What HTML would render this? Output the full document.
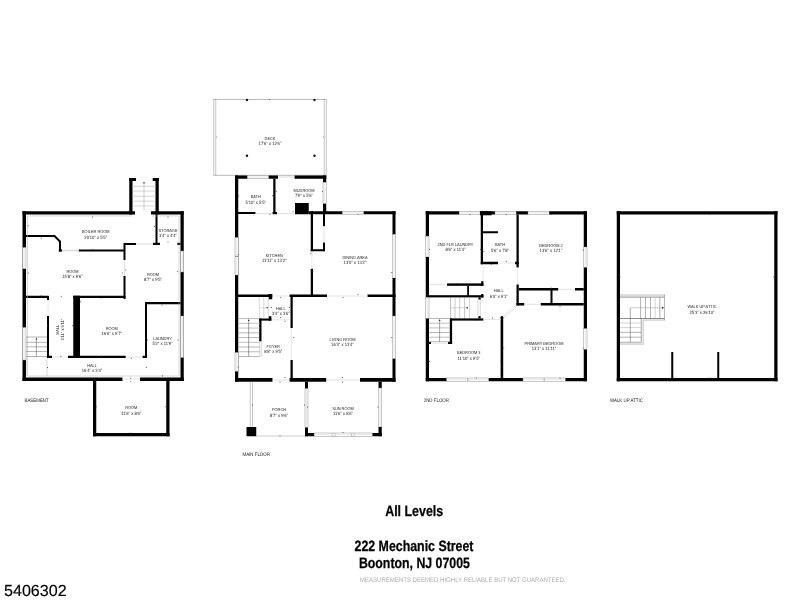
<!DOCTYPE html>
<html><head><meta charset="utf-8"><title>Floor plan</title>
<style>
html,body{margin:0;padding:0;background:#fff;}
body{width:800px;height:600px;overflow:hidden;position:relative;font-family:"Liberation Sans",sans-serif;}
svg{position:absolute;left:0;top:0;display:block;opacity:0.999;will-change:transform;}
svg text{font-family:"Liberation Sans",sans-serif;text-rendering:geometricPrecision;}
.t{position:absolute;white-space:nowrap;font-family:"Liberation Sans",sans-serif;color:#000;line-height:1;}
</style></head><body>
<svg width="800" height="600" viewBox="0 0 800 600">
<rect width="800" height="600" fill="#fff"/>
<g id="basement">
<rect x="22.5" y="211.25" width="3.5" height="169.75" fill="#000"/>
<rect x="180.5" y="211.25" width="3.25" height="169.75" fill="#000"/>
<rect x="22.5" y="211.25" width="112.5" height="3.25" fill="#000"/>
<rect x="151" y="211.25" width="32.75" height="3.25" fill="#000"/>
<rect x="22.5" y="377.5" width="100" height="3.5" fill="#000"/>
<rect x="140" y="377.5" width="43.75" height="3.5" fill="#000"/>
<rect x="129.25" y="178" width="3.25" height="36.5" fill="#000"/>
<rect x="155.5" y="178" width="3.25" height="36.5" fill="#000"/>
<rect x="129.25" y="178" width="6.75" height="3" fill="#000"/>
<rect x="152.7" y="178" width="6.05" height="3" fill="#000"/>
<rect x="93" y="381" width="3.25" height="55.25" fill="#000"/>
<rect x="166.25" y="381" width="3.25" height="55.25" fill="#000"/>
<rect x="93" y="433" width="76.5" height="3.25" fill="#000"/>
<rect x="22.5" y="247.5" width="3.5" height="21.25" fill="#fafafa" stroke="#8a8a8a" stroke-width="0.45"/>
<line x1="24.25" y1="247.5" x2="24.25" y2="268.75" stroke="#dedede" stroke-width="0.5"/>
<rect x="22.5" y="327.5" width="3.5" height="32.5" fill="#fafafa" stroke="#8a8a8a" stroke-width="0.45"/>
<line x1="24.25" y1="327.5" x2="24.25" y2="360" stroke="#dedede" stroke-width="0.5"/>
<rect x="180.5" y="251" width="3.25" height="21" fill="#fafafa" stroke="#8a8a8a" stroke-width="0.45"/>
<line x1="182.125" y1="251" x2="182.125" y2="272" stroke="#dedede" stroke-width="0.5"/>
<rect x="180.5" y="316" width="3.25" height="41.5" fill="#fafafa" stroke="#8a8a8a" stroke-width="0.45"/>
<line x1="182.125" y1="316" x2="182.125" y2="357.5" stroke="#dedede" stroke-width="0.5"/>
<rect x="155.5" y="214.5" width="2" height="30.5" fill="#000"/>
<rect x="153" y="242.8" width="7" height="2.2" fill="#000"/>
<rect x="177.3" y="242.8" width="3.2" height="2.2" fill="#000"/>
<rect x="124" y="243" width="12" height="2" fill="#000"/>
<rect x="123.5" y="243" width="2" height="17" fill="#000"/>
<rect x="123.5" y="276" width="2" height="23" fill="#000"/>
<rect x="78.75" y="249.5" width="45.25" height="2" fill="#000"/>
<rect x="58.75" y="249.5" width="3.25" height="2" fill="#000"/>
<polyline points="26,236 54.5,236 60,241.5 60,251.5" fill="none" stroke="#000" stroke-width="2"/>
<rect x="26" y="295.75" width="22.75" height="2.25" fill="#000"/>
<rect x="73.25" y="295.75" width="52.25" height="2.25" fill="#000"/>
<rect x="73.25" y="295.75" width="6.75" height="61.75" fill="#000"/>
<rect x="145" y="302" width="35.5" height="2.25" fill="#000"/>
<rect x="145" y="302" width="2" height="55.5" fill="#000"/>
<rect x="47" y="296" width="2" height="4" fill="#000"/>
<rect x="47" y="316" width="2" height="41.5" fill="#000"/>
<rect x="47" y="355.75" width="5" height="2.25" fill="#000"/>
<rect x="68" y="355.75" width="57.75" height="2.25" fill="#000"/>
<rect x="142.5" y="355.75" width="4.5" height="2.25" fill="#000"/>
<line x1="27.5" y1="216" x2="132" y2="216" stroke="#b0b0b0" stroke-width="0.5"/>
<line x1="152" y1="216" x2="179" y2="216" stroke="#b0b0b0" stroke-width="0.5"/>
<line x1="27.5" y1="216" x2="27.5" y2="376" stroke="#b0b0b0" stroke-width="0.5"/>
<line x1="179" y1="216" x2="179" y2="376" stroke="#b0b0b0" stroke-width="0.5"/>
<line x1="27.5" y1="376" x2="179" y2="376" stroke="#b0b0b0" stroke-width="0.5"/>
<line x1="62" y1="250.5" x2="78.75" y2="250.5" stroke="#dadada" stroke-width="1.5"/>
<line x1="136" y1="244" x2="153" y2="244" stroke="#dadada" stroke-width="1"/>
<line x1="124.5" y1="260" x2="124.5" y2="276" stroke="#dadada" stroke-width="0.8"/>
<line x1="47.3" y1="300" x2="47.3" y2="316" stroke="#ddd" stroke-width="0.4"/>
<line x1="48.7" y1="300" x2="48.7" y2="316" stroke="#ddd" stroke-width="0.4"/>
<line x1="125.75" y1="357" x2="142.5" y2="357" stroke="#dadada" stroke-width="0.8"/>
<line x1="47" y1="358" x2="47" y2="376" stroke="#b0b0b0" stroke-width="0.5"/>
<line x1="52" y1="357" x2="68" y2="357" stroke="#ddd" stroke-width="0.8"/>
<line x1="122.5" y1="379" x2="140" y2="379" stroke="#dadada" stroke-width="0.8"/>
<line x1="132.5" y1="186.3" x2="155.5" y2="186.3" stroke="#c4c4c4" stroke-width="0.7"/>
<line x1="132.5" y1="191.1" x2="155.5" y2="191.1" stroke="#c4c4c4" stroke-width="0.7"/>
<line x1="132.5" y1="196.2" x2="155.5" y2="196.2" stroke="#c4c4c4" stroke-width="0.7"/>
<line x1="132.5" y1="201.2" x2="155.5" y2="201.2" stroke="#c4c4c4" stroke-width="0.7"/>
<line x1="132.5" y1="206" x2="155.5" y2="206" stroke="#c4c4c4" stroke-width="0.7"/>
<line x1="144" y1="183" x2="144" y2="210.7" stroke="#b0b0b0" stroke-width="0.6"/>
<circle cx="144" cy="182.7" r="0.8" fill="#333"/>
<line x1="26" y1="337" x2="47" y2="337" stroke="#777" stroke-width="0.55"/>
<line x1="26" y1="342.3" x2="47" y2="342.3" stroke="#777" stroke-width="0.55"/>
<line x1="26" y1="346.8" x2="47" y2="346.8" stroke="#777" stroke-width="0.55"/>
<line x1="26" y1="351.5" x2="47" y2="351.5" stroke="#777" stroke-width="0.55"/>
<line x1="26" y1="356.5" x2="47" y2="356.5" stroke="#777" stroke-width="0.55"/>
<line x1="26.4" y1="337" x2="26.4" y2="376" stroke="#bbb" stroke-width="0.4"/>
<line x1="36.4" y1="338.5" x2="36.4" y2="356.5" stroke="#555" stroke-width="0.5"/>
<polygon points="35.5,339.6 36.4,337.6 37.3,339.6" fill="#333"/>
<text transform="translate(95.75 233.45) scale(0.9 1)" font-size="4.33" fill="#1c1c1c" text-anchor="middle">BOILER ROOM</text>
<text transform="translate(95.75 238.5) scale(0.9 1)" font-size="4.61" fill="#1c1c1c" text-anchor="middle">20'10&quot; x 5'5&quot;</text>
<text transform="translate(168 231.95) scale(0.9 1)" font-size="4.33" fill="#1c1c1c" text-anchor="middle">STORAGE</text>
<text transform="translate(168 236.7) scale(0.9 1)" font-size="4.61" fill="#1c1c1c" text-anchor="middle">3'4&quot; x 4'4&quot;</text>
<text transform="translate(72.5 272.7) scale(0.9 1)" font-size="4.33" fill="#1c1c1c" text-anchor="middle">ROOM</text>
<text transform="translate(72.5 277.75) scale(0.9 1)" font-size="4.61" fill="#1c1c1c" text-anchor="middle">15'8&quot; x 9'6&quot;</text>
<text transform="translate(153 275.95) scale(0.9 1)" font-size="4.33" fill="#1c1c1c" text-anchor="middle">ROOM</text>
<text transform="translate(153 281) scale(0.9 1)" font-size="4.61" fill="#1c1c1c" text-anchor="middle">8'7&quot; x 9'5&quot;</text>
<text transform="translate(111.75 329.7) scale(0.9 1)" font-size="4.33" fill="#1c1c1c" text-anchor="middle">ROOM</text>
<text transform="translate(111.75 334.75) scale(0.9 1)" font-size="4.61" fill="#1c1c1c" text-anchor="middle">16'6&quot; x 9'7&quot;</text>
<text transform="translate(162.5 340.45) scale(0.9 1)" font-size="4.33" fill="#1c1c1c" text-anchor="middle">LAUNDRY</text>
<text transform="translate(162.5 345.1) scale(0.9 1)" font-size="4.61" fill="#1c1c1c" text-anchor="middle">5'2&quot; x 11'9&quot;</text>
<text transform="translate(92 366.95) scale(0.9 1)" font-size="4.33" fill="#1c1c1c" text-anchor="middle">HALL</text>
<text transform="translate(92 372) scale(0.9 1)" font-size="4.61" fill="#1c1c1c" text-anchor="middle">16'4&quot; x 3'4&quot;</text>
<text transform="translate(131.25 409.45) scale(0.9 1)" font-size="4.33" fill="#1c1c1c" text-anchor="middle">ROOM</text>
<text transform="translate(131.25 414.5) scale(0.9 1)" font-size="4.61" fill="#1c1c1c" text-anchor="middle">11'6&quot; x 8'6&quot;</text>
<text transform="translate(59.3 329.6) rotate(-90) scale(0.9 1)" font-size="4.33" fill="#1c1c1c" text-anchor="middle">HALL</text>
<text transform="translate(64.4 329.6) rotate(-90) scale(0.9 1)" font-size="4.56" fill="#1c1c1c" text-anchor="middle">3'11&quot; x 9'11&quot;</text>
<text transform="translate(24.5 401.6) scale(0.86 1)" font-size="5.12" fill="#1a1a1a" text-anchor="start">BASEMENT</text>
</g>
<g id="main">
<line x1="213.75" y1="98.75" x2="213.75" y2="175.5" stroke="#8c8c8c" stroke-width="0.5"/>
<line x1="215.75" y1="98.75" x2="215.75" y2="175.5" stroke="#8c8c8c" stroke-width="0.5"/>
<line x1="324.25" y1="98.75" x2="324.25" y2="175.5" stroke="#8c8c8c" stroke-width="0.5"/>
<line x1="326.25" y1="98.75" x2="326.25" y2="175.5" stroke="#8c8c8c" stroke-width="0.5"/>
<line x1="213.75" y1="99.5" x2="326.25" y2="99.5" stroke="#8c8c8c" stroke-width="0.6"/>
<line x1="213.75" y1="175.3" x2="326.25" y2="175.3" stroke="#8c8c8c" stroke-width="0.6"/>
<circle cx="247" cy="100" r="1.2" fill="#111"/>
<circle cx="314.5" cy="100" r="1.2" fill="#111"/>
<circle cx="247" cy="155.75" r="1.2" fill="#111"/>
<circle cx="314.5" cy="155.75" r="1.2" fill="#111"/>
<circle cx="269.5" cy="99.5" r="0.6" fill="#555"/>
<circle cx="216.5" cy="137" r="0.5" fill="#777"/>
<circle cx="323.5" cy="137" r="0.5" fill="#777"/>
<text transform="translate(270 139.7) scale(0.9 1)" font-size="4.33" fill="#1c1c1c" text-anchor="middle">DECK</text>
<text transform="translate(270 144.95) scale(0.9 1)" font-size="4.61" fill="#1c1c1c" text-anchor="middle">17'6&quot; x 12'6&quot;</text>
<rect x="235" y="175.5" width="12.5" height="3.25" fill="#000"/>
<rect x="247.5" y="175.5" width="21.25" height="3.25" fill="#fafafa" stroke="#8a8a8a" stroke-width="0.45"/>
<line x1="247.5" y1="177.125" x2="268.75" y2="177.125" stroke="#dedede" stroke-width="0.5"/>
<rect x="268.75" y="175.5" width="9.25" height="3.25" fill="#000"/>
<rect x="294.5" y="175.5" width="31.75" height="3.25" fill="#000"/>
<line x1="278" y1="177" x2="294.5" y2="177" stroke="#dadada" stroke-width="1"/>
<rect x="235" y="175.5" width="3.25" height="206.25" fill="#000"/>
<rect x="273.25" y="178.75" width="2.25" height="35.25" fill="#000"/>
<rect x="272.5" y="212" width="4.5" height="2.25" fill="#000"/>
<rect x="238" y="212" width="17.5" height="2" fill="#000"/>
<line x1="255.5" y1="213.5" x2="272.5" y2="213.5" stroke="#dadada" stroke-width="0.8"/>
<line x1="277" y1="213.5" x2="295" y2="213.5" stroke="#dadada" stroke-width="0.8"/>
<rect x="323" y="175.5" width="3.25" height="7" fill="#000"/>
<rect x="323" y="182.5" width="3.25" height="21.25" fill="#fafafa" stroke="#8a8a8a" stroke-width="0.45"/>
<line x1="324.625" y1="182.5" x2="324.625" y2="203.75" stroke="#dedede" stroke-width="0.5"/>
<rect x="323" y="203.75" width="3.25" height="10.25" fill="#000"/>
<rect x="323" y="211.25" width="2" height="15" fill="#000"/>
<rect x="295" y="203" width="13.75" height="11.25" fill="#000"/>
<rect x="308.75" y="211.25" width="33.75" height="3" fill="#000"/>
<rect x="342.5" y="211.25" width="21.25" height="3" fill="#fafafa" stroke="#8a8a8a" stroke-width="0.45"/>
<line x1="342.5" y1="212.75" x2="363.75" y2="212.75" stroke="#dedede" stroke-width="0.5"/>
<rect x="363.75" y="211.25" width="31.75" height="3" fill="#000"/>
<rect x="392.5" y="211.25" width="3" height="23.25" fill="#000"/>
<rect x="392.5" y="234.5" width="3" height="43.5" fill="#fafafa" stroke="#8a8a8a" stroke-width="0.45"/>
<line x1="394" y1="234.5" x2="394" y2="278" stroke="#dedede" stroke-width="0.5"/>
<rect x="392.5" y="278" width="3" height="38" fill="#000"/>
<rect x="392.5" y="316" width="3" height="42.75" fill="#fafafa" stroke="#8a8a8a" stroke-width="0.45"/>
<line x1="394" y1="316" x2="394" y2="358.75" stroke="#dedede" stroke-width="0.5"/>
<rect x="392.5" y="358.75" width="3" height="23" fill="#000"/>
<rect x="310.75" y="211.25" width="2.25" height="40" fill="#000"/>
<rect x="310.75" y="249.25" width="14.25" height="2" fill="#000"/>
<rect x="323" y="242.5" width="2" height="8.75" fill="#000"/>
<line x1="324" y1="226.25" x2="324" y2="242.5" stroke="#dadada" stroke-width="0.8"/>
<rect x="310.75" y="268.75" width="2.25" height="28.25" fill="#000"/>
<line x1="311.8" y1="251.25" x2="311.8" y2="268.75" stroke="#dadada" stroke-width="0.6"/>
<rect x="235" y="237.5" width="3.25" height="18.5" fill="#fafafa" stroke="#8a8a8a" stroke-width="0.45"/>
<line x1="236.625" y1="237.5" x2="236.625" y2="256" stroke="#dedede" stroke-width="0.5"/>
<rect x="235" y="256.5" width="3.25" height="18.5" fill="#fafafa" stroke="#8a8a8a" stroke-width="0.45"/>
<line x1="236.625" y1="256.5" x2="236.625" y2="275" stroke="#dedede" stroke-width="0.5"/>
<rect x="235" y="352.5" width="3.25" height="18.75" fill="#fafafa" stroke="#8a8a8a" stroke-width="0.45"/>
<line x1="236.625" y1="352.5" x2="236.625" y2="371.25" stroke="#dedede" stroke-width="0.5"/>
<rect x="235" y="294.5" width="37.25" height="2.5" fill="#000"/>
<rect x="268.5" y="294" width="3.75" height="5.3" fill="#000"/>
<rect x="289.5" y="294.5" width="37.5" height="2.5" fill="#000"/>
<rect x="367.5" y="294.5" width="28" height="2.5" fill="#000"/>
<line x1="272.5" y1="296" x2="289.5" y2="296" stroke="#dadada" stroke-width="0.7"/>
<line x1="327" y1="296" x2="367.5" y2="296" stroke="#dadada" stroke-width="0.7"/>
<rect x="290.5" y="297" width="2.25" height="31" fill="#000"/>
<rect x="290.5" y="360" width="2.25" height="18" fill="#000"/>
<line x1="291.6" y1="328" x2="291.6" y2="360" stroke="#dadada" stroke-width="0.6"/>
<rect x="259.2" y="318.5" width="12.2" height="2.1" fill="#000"/>
<rect x="268.5" y="316.25" width="2.9" height="4.35" fill="#000"/>
<rect x="259.2" y="318.5" width="2.3" height="22.8" fill="#000"/>
<line x1="259.6" y1="341.3" x2="259.6" y2="356.5" stroke="#aaa" stroke-width="0.5"/>
<line x1="261.3" y1="341.3" x2="261.3" y2="356.5" stroke="#aaa" stroke-width="0.5"/>
<line x1="271.4" y1="319.8" x2="290.5" y2="319.8" stroke="#d0d0d0" stroke-width="0.6"/>
<line x1="271.4" y1="317.2" x2="290.5" y2="317.2" stroke="#e0e0e0" stroke-width="0.5"/>
<line x1="259.3" y1="297" x2="259.3" y2="318.5" stroke="#c8c8c8" stroke-width="0.7"/>
<line x1="263.8" y1="297" x2="263.8" y2="318.5" stroke="#c8c8c8" stroke-width="0.7"/>
<line x1="268.3" y1="297" x2="268.3" y2="318.5" stroke="#c8c8c8" stroke-width="0.7"/>
<line x1="259.3" y1="307.7" x2="267.5" y2="307.7" stroke="#c8c8c8" stroke-width="0.6"/>
<circle cx="267.2" cy="307.7" r="0.8" fill="#444"/>
<line x1="238.25" y1="318.6" x2="259.5" y2="318.6" stroke="#8a8a8a" stroke-width="0.6"/>
<line x1="238.25" y1="323.34" x2="259.5" y2="323.34" stroke="#c4c4c4" stroke-width="1"/>
<line x1="238.25" y1="328.08" x2="259.5" y2="328.08" stroke="#c4c4c4" stroke-width="1"/>
<line x1="238.25" y1="332.82" x2="259.5" y2="332.82" stroke="#8a8a8a" stroke-width="0.6"/>
<line x1="238.25" y1="337.56" x2="259.5" y2="337.56" stroke="#8a8a8a" stroke-width="0.6"/>
<line x1="238.25" y1="342.3" x2="259.5" y2="342.3" stroke="#c4c4c4" stroke-width="1"/>
<line x1="238.25" y1="347.04" x2="259.5" y2="347.04" stroke="#8a8a8a" stroke-width="0.6"/>
<line x1="238.25" y1="351.78" x2="259.5" y2="351.78" stroke="#8a8a8a" stroke-width="0.6"/>
<line x1="238.25" y1="356.52" x2="259.5" y2="356.52" stroke="#8a8a8a" stroke-width="0.6"/>
<line x1="248.7" y1="320" x2="248.7" y2="356.5" stroke="#444" stroke-width="0.5"/>
<polygon points="247.8,321 248.7,319 249.6,321" fill="#333"/>
<rect x="235" y="378" width="37.5" height="3.75" fill="#000"/>
<rect x="289.5" y="378" width="36.75" height="3.75" fill="#000"/>
<rect x="360" y="378" width="35.5" height="3.75" fill="#000"/>
<line x1="272.5" y1="380" x2="289.5" y2="380" stroke="#dadada" stroke-width="0.8"/>
<line x1="326.25" y1="380" x2="360" y2="380" stroke="#dadada" stroke-width="0.8"/>
<rect x="305" y="381.75" width="3" height="7" fill="#000"/>
<rect x="305" y="388.75" width="3" height="38.75" fill="#fafafa" stroke="#8a8a8a" stroke-width="0.45"/>
<line x1="306.5" y1="388.75" x2="306.5" y2="427.5" stroke="#dedede" stroke-width="0.5"/>
<rect x="305" y="427.5" width="3" height="8.75" fill="#000"/>
<rect x="305" y="433" width="9.25" height="3.25" fill="#000"/>
<rect x="314.25" y="433" width="58.25" height="3.25" fill="#fafafa" stroke="#8a8a8a" stroke-width="0.45"/>
<line x1="314.25" y1="434.625" x2="372.5" y2="434.625" stroke="#dedede" stroke-width="0.5"/>
<rect x="332" y="433.3" width="3" height="2.7" fill="#fff" stroke="#999" stroke-width="0.4"/><rect x="351.6" y="433.3" width="3" height="2.7" fill="#fff" stroke="#999" stroke-width="0.4"/>
<rect x="372.5" y="433" width="9.25" height="3.25" fill="#000"/>
<rect x="378.5" y="381.75" width="3.25" height="6.25" fill="#000"/>
<rect x="378.5" y="388" width="3.25" height="39" fill="#fafafa" stroke="#8a8a8a" stroke-width="0.45"/>
<line x1="380.125" y1="388" x2="380.125" y2="427" stroke="#dedede" stroke-width="0.5"/>
<rect x="378.5" y="427" width="3.25" height="9.25" fill="#000"/>
<line x1="250.25" y1="381.75" x2="250.25" y2="427" stroke="#8c8c8c" stroke-width="0.5"/>
<line x1="252.5" y1="381.75" x2="252.5" y2="427" stroke="#8c8c8c" stroke-width="0.5"/>
<rect x="246.5" y="427" width="9.75" height="9.25" fill="#000"/>
<line x1="256.25" y1="436" x2="305" y2="436" stroke="#999" stroke-width="0.5"/>
<text transform="translate(255.75 198.45) scale(0.9 1)" font-size="4.33" fill="#1c1c1c" text-anchor="middle">BATH</text>
<text transform="translate(255.75 203.7) scale(0.9 1)" font-size="4.61" fill="#1c1c1c" text-anchor="middle">5'10&quot; x 5'5&quot;</text>
<text transform="translate(304 191.95) scale(0.9 1)" font-size="4.33" fill="#1c1c1c" text-anchor="middle">MUDROOM</text>
<text transform="translate(304 197) scale(0.9 1)" font-size="4.61" fill="#1c1c1c" text-anchor="middle">7'9&quot; x 5'6&quot;</text>
<text transform="translate(274.25 257.2) scale(0.9 1)" font-size="4.33" fill="#1c1c1c" text-anchor="middle">KITCHEN</text>
<text transform="translate(274.25 262.25) scale(0.9 1)" font-size="4.61" fill="#1c1c1c" text-anchor="middle">11'11&quot; x 13'2&quot;</text>
<text transform="translate(355 258.95) scale(0.9 1)" font-size="4.33" fill="#1c1c1c" text-anchor="middle">DINING AREA</text>
<text transform="translate(355 264) scale(0.9 1)" font-size="4.61" fill="#1c1c1c" text-anchor="middle">13'0&quot; x 13'2&quot;</text>
<text transform="translate(280.75 310.15) scale(0.9 1)" font-size="4.33" fill="#1c1c1c" text-anchor="middle">HALL</text>
<text transform="translate(280.75 315.2) scale(0.9 1)" font-size="4.61" fill="#1c1c1c" text-anchor="middle">3'4&quot; x 3'6&quot;</text>
<text transform="translate(342.5 340.7) scale(0.9 1)" font-size="4.33" fill="#1c1c1c" text-anchor="middle">LIVING ROOM</text>
<text transform="translate(342.5 345.75) scale(0.9 1)" font-size="4.61" fill="#1c1c1c" text-anchor="middle">16'3&quot; x 13'4&quot;</text>
<text transform="translate(273.2 347.75) scale(0.9 1)" font-size="4.33" fill="#1c1c1c" text-anchor="middle">FOYER</text>
<text transform="translate(273.2 352.5) scale(0.9 1)" font-size="4.61" fill="#1c1c1c" text-anchor="middle">8'8&quot; x 9'5&quot;</text>
<text transform="translate(279 411.45) scale(0.9 1)" font-size="4.33" fill="#1c1c1c" text-anchor="middle">PORCH</text>
<text transform="translate(279 416.5) scale(0.9 1)" font-size="4.61" fill="#1c1c1c" text-anchor="middle">8'7&quot; x 9'6&quot;</text>
<text transform="translate(343 409.95) scale(0.9 1)" font-size="4.33" fill="#1c1c1c" text-anchor="middle">SUN ROOM</text>
<text transform="translate(343 415) scale(0.9 1)" font-size="4.61" fill="#1c1c1c" text-anchor="middle">11'6&quot; x 8'6&quot;</text>
<text transform="translate(242.5 456.2) scale(0.86 1)" font-size="5.12" fill="#1a1a1a" text-anchor="start">MAIN FLOOR</text>
</g>
<g id="second">
<rect x="425.75" y="211.25" width="33.5" height="3.25" fill="#000"/>
<rect x="459.25" y="211.25" width="20.75" height="3.25" fill="#fafafa" stroke="#8a8a8a" stroke-width="0.45"/>
<line x1="459.25" y1="212.875" x2="480" y2="212.875" stroke="#dedede" stroke-width="0.5"/>
<rect x="480" y="211.25" width="15" height="3.25" fill="#000"/>
<rect x="480" y="211.25" width="11.5" height="4.05" fill="#000"/>
<rect x="495" y="211.25" width="21.25" height="3.25" fill="#fafafa" stroke="#8a8a8a" stroke-width="0.45"/>
<line x1="495" y1="212.875" x2="516.25" y2="212.875" stroke="#dedede" stroke-width="0.5"/>
<rect x="516.25" y="211.25" width="11.75" height="3.25" fill="#000"/>
<rect x="528" y="211.25" width="21.25" height="3.25" fill="#fafafa" stroke="#8a8a8a" stroke-width="0.45"/>
<line x1="528" y1="212.875" x2="549.25" y2="212.875" stroke="#dedede" stroke-width="0.5"/>
<rect x="549.25" y="211.25" width="37.75" height="3.25" fill="#000"/>
<rect x="425.75" y="211.25" width="3.25" height="25" fill="#000"/>
<rect x="425.75" y="236.25" width="3.25" height="20.75" fill="#fafafa" stroke="#8a8a8a" stroke-width="0.45"/>
<line x1="427.375" y1="236.25" x2="427.375" y2="257" stroke="#dedede" stroke-width="0.5"/>
<rect x="425.75" y="257" width="3.25" height="40.5" fill="#000"/>
<rect x="425.75" y="297.5" width="3.25" height="21" fill="#fafafa" stroke="#8a8a8a" stroke-width="0.45"/>
<line x1="427.375" y1="297.5" x2="427.375" y2="318.5" stroke="#dedede" stroke-width="0.5"/>
<rect x="425.75" y="318.5" width="3.25" height="62.75" fill="#000"/>
<rect x="583.75" y="211.25" width="3.25" height="35.75" fill="#000"/>
<rect x="583.75" y="247" width="3.25" height="20.5" fill="#fafafa" stroke="#8a8a8a" stroke-width="0.45"/>
<line x1="585.375" y1="247" x2="585.375" y2="267.5" stroke="#dedede" stroke-width="0.5"/>
<rect x="583.75" y="267.5" width="3.25" height="61.25" fill="#000"/>
<rect x="583.75" y="328.75" width="3.25" height="20.75" fill="#fafafa" stroke="#8a8a8a" stroke-width="0.45"/>
<line x1="585.375" y1="328.75" x2="585.375" y2="349.5" stroke="#dedede" stroke-width="0.5"/>
<rect x="583.75" y="349.5" width="3.25" height="31.75" fill="#000"/>
<rect x="425.75" y="378" width="21" height="3.25" fill="#000"/>
<rect x="446.75" y="378" width="20.75" height="3.25" fill="#fafafa" stroke="#8a8a8a" stroke-width="0.45"/>
<line x1="446.75" y1="379.625" x2="467.5" y2="379.625" stroke="#dedede" stroke-width="0.5"/>
<rect x="468" y="378" width="20.75" height="3.25" fill="#fafafa" stroke="#8a8a8a" stroke-width="0.45"/>
<line x1="468" y1="379.625" x2="488.75" y2="379.625" stroke="#dedede" stroke-width="0.5"/>
<rect x="488.75" y="378" width="34.25" height="3.25" fill="#000"/>
<rect x="523" y="378" width="21" height="3.25" fill="#fafafa" stroke="#8a8a8a" stroke-width="0.45"/>
<line x1="523" y1="379.625" x2="544" y2="379.625" stroke="#dedede" stroke-width="0.5"/>
<rect x="544.5" y="378" width="21" height="3.25" fill="#fafafa" stroke="#8a8a8a" stroke-width="0.45"/>
<line x1="544.5" y1="379.625" x2="565.5" y2="379.625" stroke="#dedede" stroke-width="0.5"/>
<rect x="565.5" y="378" width="21.5" height="3.25" fill="#000"/>
<rect x="480.75" y="214.5" width="2.25" height="49.75" fill="#000"/>
<rect x="483" y="231.25" width="15" height="2" fill="#000"/>
<rect x="480.75" y="261.75" width="17.25" height="2.5" fill="#000"/>
<rect x="515" y="261.75" width="3.75" height="2.5" fill="#000"/>
<rect x="516.5" y="214.5" width="2.25" height="53" fill="#000"/>
<line x1="498" y1="263" x2="515" y2="263" stroke="#dadada" stroke-width="0.7"/>
<line x1="483" y1="264.25" x2="483" y2="283.25" stroke="#dadada" stroke-width="0.6"/>
<line x1="517.5" y1="267.5" x2="517.5" y2="284.5" stroke="#dadada" stroke-width="0.6"/>
<rect x="447" y="283.4" width="36.4" height="2.4" fill="#000"/>
<rect x="481.2" y="281.2" width="2.2" height="4.6" fill="#000"/>
<line x1="429" y1="284.6" x2="447" y2="284.6" stroke="#dadada" stroke-width="0.8"/>
<rect x="467.2" y="285.8" width="1.8" height="10.2" fill="#000"/>
<rect x="429" y="295.2" width="54.4" height="2.2" fill="#000"/>
<rect x="481.2" y="294" width="2.2" height="3.5" fill="#000"/>
<rect x="478.4" y="297.4" width="2.3" height="2.4" fill="#000"/>
<rect x="516.5" y="284.5" width="2.25" height="21" fill="#000"/>
<rect x="518.75" y="288" width="39.5" height="2.5" fill="#000"/>
<rect x="575" y="288" width="8.75" height="2.5" fill="#000"/>
<line x1="558.25" y1="289.3" x2="575" y2="289.3" stroke="#dadada" stroke-width="0.8"/>
<rect x="550.5" y="288" width="2" height="17" fill="#000"/>
<rect x="516.5" y="303" width="7.75" height="2.5" fill="#000"/>
<rect x="540.75" y="303" width="43" height="2.5" fill="#000"/>
<line x1="524.25" y1="304.3" x2="540.75" y2="304.3" stroke="#dadada" stroke-width="0.8"/>
<line x1="516.3" y1="304.6" x2="502.2" y2="317.2" stroke="#c8c8c8" stroke-width="0.5"/>
<line x1="517.5" y1="305.8" x2="503.4" y2="318.4" stroke="#c8c8c8" stroke-width="0.5"/>
<rect x="500.6" y="317" width="2.6" height="61.75" fill="#000"/>
<circle cx="501.9" cy="317.2" r="1.3" fill="#000"/>
<line x1="450.6" y1="297.4" x2="450.6" y2="318.4" stroke="#777" stroke-width="0.5"/>
<line x1="455" y1="297.4" x2="455" y2="318.4" stroke="#c8c8c8" stroke-width="1"/>
<line x1="459.7" y1="297.4" x2="459.7" y2="318.4" stroke="#999" stroke-width="0.5"/>
<line x1="464.6" y1="297.4" x2="464.6" y2="318.4" stroke="#888" stroke-width="0.5"/>
<line x1="469.6" y1="297.4" x2="469.6" y2="318.4" stroke="#c8c8c8" stroke-width="0.8"/>
<line x1="450.6" y1="307.8" x2="467" y2="307.8" stroke="#aaa" stroke-width="0.5"/>
<rect x="466.6" y="307.1" width="1.4" height="1.4" fill="#333"/>
<rect x="477.9" y="299.8" width="2.7" height="16.4" fill="#f6f6f6" stroke="#bbb" stroke-width="0.4"/>
<rect x="478.4" y="316.2" width="2.3" height="2.3" fill="#000"/>
<rect x="450.6" y="318.4" width="32.8" height="2.2" fill="#000"/>
<line x1="483.4" y1="319.5" x2="500.75" y2="319.5" stroke="#dadada" stroke-width="0.7"/>
<rect x="449.8" y="318.4" width="2.3" height="25.6" fill="#000"/>
<rect x="448" y="341.9" width="4.1" height="2.1" fill="#000"/>
<rect x="429" y="341.9" width="2" height="2.1" fill="#000"/>
<line x1="431" y1="343.4" x2="448" y2="343.4" stroke="#ddd" stroke-width="0.6"/>
<line x1="429" y1="318.5" x2="449.8" y2="318.5" stroke="#888" stroke-width="0.6"/>
<line x1="429" y1="323.2" x2="449.8" y2="323.2" stroke="#b8b8b8" stroke-width="0.9"/>
<line x1="429" y1="327.9" x2="449.8" y2="327.9" stroke="#b8b8b8" stroke-width="0.9"/>
<line x1="429" y1="332.5" x2="449.8" y2="332.5" stroke="#888" stroke-width="0.6"/>
<line x1="429" y1="337.2" x2="449.8" y2="337.2" stroke="#b8b8b8" stroke-width="0.9"/>
<line x1="429" y1="341.7" x2="449.8" y2="341.7" stroke="#888" stroke-width="0.6"/>
<line x1="439.6" y1="320" x2="439.6" y2="342" stroke="#555" stroke-width="0.5"/>
<polygon points="438.7,321 439.6,319 440.5,321" fill="#333"/>
<text transform="translate(455.5 245.7) scale(0.9 1)" font-size="4.33" fill="#1c1c1c" text-anchor="middle">2ND FLR LAUNDRY</text>
<text transform="translate(455.5 250.95) scale(0.9 1)" font-size="4.61" fill="#1c1c1c" text-anchor="middle">8'6&quot; x 11'4&quot;</text>
<text transform="translate(500 246.45) scale(0.9 1)" font-size="4.33" fill="#1c1c1c" text-anchor="middle">BATH</text>
<text transform="translate(500 251.7) scale(0.9 1)" font-size="4.61" fill="#1c1c1c" text-anchor="middle">5'6&quot; x 7'8&quot;</text>
<text transform="translate(551 246.95) scale(0.9 1)" font-size="4.33" fill="#1c1c1c" text-anchor="middle">BEDROOM 2</text>
<text transform="translate(551 252.4) scale(0.9 1)" font-size="4.61" fill="#1c1c1c" text-anchor="middle">13'6&quot; x 12'1&quot;</text>
<text transform="translate(498.75 292.45) scale(0.9 1)" font-size="4.33" fill="#1c1c1c" text-anchor="middle">HALL</text>
<text transform="translate(498.75 297.5) scale(0.9 1)" font-size="4.61" fill="#1c1c1c" text-anchor="middle">6'0&quot; x 9'1&quot;</text>
<text transform="translate(468.75 354.45) scale(0.9 1)" font-size="4.33" fill="#1c1c1c" text-anchor="middle">BEDROOM 3</text>
<text transform="translate(468.75 359.5) scale(0.9 1)" font-size="4.61" fill="#1c1c1c" text-anchor="middle">11'10&quot; x 9'5&quot;</text>
<text transform="translate(544 344.95) scale(0.9 1)" font-size="4.33" fill="#1c1c1c" text-anchor="middle">PRIMARY BEDROOM</text>
<text transform="translate(544 350.2) scale(0.9 1)" font-size="4.61" fill="#1c1c1c" text-anchor="middle">13'1&quot; x 11'11&quot;</text>
<text transform="translate(423.75 401.6) scale(0.86 1)" font-size="5.12" fill="#1a1a1a" text-anchor="start">2ND FLOOR</text>
</g>
<g id="attic">
<rect x="616.75" y="211.25" width="3.25" height="170" fill="#000"/>
<rect x="774.25" y="211.25" width="3.25" height="170" fill="#000"/>
<rect x="616.75" y="211.25" width="160.75" height="3.25" fill="#000"/>
<rect x="616.75" y="378" width="160.75" height="3.25" fill="#000"/>
<rect x="671.25" y="352" width="2" height="26.75" fill="#000"/>
<rect x="717.25" y="352" width="2" height="26.75" fill="#000"/>
<rect x="620" y="294.6" width="44.8" height="2.7" fill="#dedede"/>
<line x1="620" y1="294.7" x2="664.8" y2="294.7" stroke="#bbb" stroke-width="0.4"/>
<rect x="643.5" y="318.5" width="21.3" height="2" fill="#e6e6e6"/>
<line x1="643.5" y1="320.4" x2="664.8" y2="320.4" stroke="#b4b4b4" stroke-width="0.4"/>
<rect x="641.2" y="318.5" width="2.5" height="26" fill="#e6e6e6"/>
<line x1="643.7" y1="320.4" x2="643.7" y2="344.5" stroke="#b4b4b4" stroke-width="0.4"/>
<rect x="620" y="342.2" width="23.7" height="2.3" fill="#e2e2e2"/>
<line x1="620" y1="344.4" x2="643.7" y2="344.4" stroke="#b4b4b4" stroke-width="0.4"/>
<line x1="620" y1="297.3" x2="664.5" y2="297.3" stroke="#6a6a6a" stroke-width="0.5"/>
<line x1="664.5" y1="294.6" x2="664.5" y2="320.4" stroke="#777" stroke-width="0.5"/>
<line x1="640.6" y1="297.3" x2="640.6" y2="318.5" stroke="#666" stroke-width="0.5"/>
<line x1="645.5" y1="297.3" x2="645.5" y2="318.5" stroke="#666" stroke-width="0.5"/>
<line x1="650.5" y1="297.3" x2="650.5" y2="318.5" stroke="#666" stroke-width="0.5"/>
<line x1="655.2" y1="297.3" x2="655.2" y2="318.5" stroke="#cfcfcf" stroke-width="0.9"/>
<line x1="659.8" y1="297.3" x2="659.8" y2="318.5" stroke="#666" stroke-width="0.5"/>
<line x1="620" y1="318.5" x2="664.5" y2="318.5" stroke="#444" stroke-width="0.6"/>
<line x1="641.2" y1="318.5" x2="641.2" y2="342.2" stroke="#666" stroke-width="0.5"/>
<line x1="620" y1="342.2" x2="641.2" y2="342.2" stroke="#777" stroke-width="0.5"/>
<line x1="620" y1="323" x2="641.2" y2="323" stroke="#cfcfcf" stroke-width="0.9"/>
<line x1="620" y1="327.6" x2="641.2" y2="327.6" stroke="#cfcfcf" stroke-width="0.9"/>
<line x1="620" y1="332.3" x2="641.2" y2="332.3" stroke="#666" stroke-width="0.5"/>
<line x1="620" y1="337.2" x2="641.2" y2="337.2" stroke="#666" stroke-width="0.5"/>
<line x1="630.3" y1="307.75" x2="662.5" y2="307.75" stroke="#999" stroke-width="0.5"/>
<line x1="630.3" y1="307.75" x2="630.3" y2="342.2" stroke="#555" stroke-width="0.5"/>
<polygon points="662,306.6 664,307.75 662,308.9" fill="#333"/>
<text transform="translate(702 307.95) scale(0.9 1)" font-size="4.33" fill="#1c1c1c" text-anchor="middle">WALK UP ATTIC</text>
<text transform="translate(702 313.5) scale(0.9 1)" font-size="4.61" fill="#1c1c1c" text-anchor="middle">25'3&quot; x 26'10&quot;</text>
<text transform="translate(610 401.6) scale(0.86 1)" font-size="5.12" fill="#1a1a1a" text-anchor="start">WALK UP ATTIC</text>
</g>
<circle cx="28.25" cy="225.75" r="0.55" fill="#4a4a4a"/>
<circle cx="92.5" cy="217" r="0.55" fill="#4a4a4a"/>
<circle cx="92.5" cy="249.25" r="0.55" fill="#4a4a4a"/>
<circle cx="28.25" cy="273" r="0.55" fill="#4a4a4a"/>
<circle cx="122.5" cy="273" r="0.55" fill="#4a4a4a"/>
<circle cx="125.75" cy="270" r="0.55" fill="#4a4a4a"/>
<circle cx="177.5" cy="271.25" r="0.55" fill="#4a4a4a"/>
<circle cx="168" cy="217" r="0.55" fill="#4a4a4a"/>
<circle cx="168" cy="241.75" r="0.55" fill="#4a4a4a"/>
<circle cx="154.5" cy="226.25" r="0.55" fill="#4a4a4a"/>
<circle cx="41.25" cy="238" r="0.55" fill="#4a4a4a"/>
<circle cx="61.25" cy="296.25" r="0.55" fill="#4a4a4a"/>
<circle cx="41.25" cy="295.75" r="0.55" fill="#4a4a4a"/>
<circle cx="101.25" cy="298" r="0.55" fill="#4a4a4a"/>
<circle cx="162" cy="305" r="0.55" fill="#4a4a4a"/>
<circle cx="47.5" cy="325.75" r="0.55" fill="#4a4a4a"/>
<circle cx="72.5" cy="325.75" r="0.55" fill="#4a4a4a"/>
<circle cx="80.5" cy="301.75" r="0.55" fill="#4a4a4a"/>
<circle cx="101.25" cy="356.25" r="0.55" fill="#4a4a4a"/>
<circle cx="131.25" cy="358.25" r="0.55" fill="#4a4a4a"/>
<circle cx="147.5" cy="340" r="0.55" fill="#4a4a4a"/>
<circle cx="178" cy="340" r="0.55" fill="#4a4a4a"/>
<circle cx="47.5" cy="367.5" r="0.55" fill="#4a4a4a"/>
<circle cx="146.25" cy="367.5" r="0.55" fill="#4a4a4a"/>
<circle cx="162.5" cy="375.75" r="0.55" fill="#4a4a4a"/>
<circle cx="130.75" cy="378" r="0.55" fill="#4a4a4a"/>
<circle cx="130.75" cy="381.25" r="0.55" fill="#4a4a4a"/>
<circle cx="96.25" cy="406.75" r="0.55" fill="#4a4a4a"/>
<circle cx="165.75" cy="406.75" r="0.55" fill="#4a4a4a"/>
<circle cx="130.75" cy="433" r="0.55" fill="#4a4a4a"/>
<circle cx="60.75" cy="356.25" r="0.55" fill="#4a4a4a"/>
<circle cx="238.75" cy="195.75" r="0.55" fill="#4a4a4a"/>
<circle cx="276.25" cy="191.25" r="0.55" fill="#4a4a4a"/>
<circle cx="322.5" cy="191.25" r="0.55" fill="#4a4a4a"/>
<circle cx="270" cy="214.25" r="0.55" fill="#4a4a4a"/>
<circle cx="293" cy="211.75" r="0.55" fill="#4a4a4a"/>
<circle cx="358" cy="214.25" r="0.55" fill="#4a4a4a"/>
<circle cx="272.5" cy="195.75" r="0.55" fill="#4a4a4a"/>
<circle cx="238.25" cy="254.25" r="0.55" fill="#4a4a4a"/>
<circle cx="310.75" cy="253.25" r="0.55" fill="#4a4a4a"/>
<circle cx="313" cy="271.25" r="0.55" fill="#4a4a4a"/>
<circle cx="391.75" cy="272.5" r="0.55" fill="#4a4a4a"/>
<circle cx="343" cy="297.5" r="0.55" fill="#4a4a4a"/>
<circle cx="358" cy="294.5" r="0.55" fill="#4a4a4a"/>
<circle cx="280.75" cy="297.5" r="0.55" fill="#4a4a4a"/>
<circle cx="280.75" cy="317.5" r="0.55" fill="#4a4a4a"/>
<circle cx="285" cy="321.25" r="0.55" fill="#4a4a4a"/>
<circle cx="289.5" cy="307.5" r="0.55" fill="#4a4a4a"/>
<circle cx="271.25" cy="307.5" r="0.55" fill="#4a4a4a"/>
<circle cx="293.75" cy="337.5" r="0.55" fill="#4a4a4a"/>
<circle cx="391.75" cy="337.5" r="0.55" fill="#4a4a4a"/>
<circle cx="285" cy="377.5" r="0.55" fill="#4a4a4a"/>
<circle cx="280" cy="382" r="0.55" fill="#4a4a4a"/>
<circle cx="342.5" cy="377.5" r="0.55" fill="#4a4a4a"/>
<circle cx="342.5" cy="382" r="0.55" fill="#4a4a4a"/>
<circle cx="252.5" cy="405" r="0.55" fill="#4a4a4a"/>
<circle cx="304.5" cy="405" r="0.55" fill="#4a4a4a"/>
<circle cx="307.5" cy="407" r="0.55" fill="#4a4a4a"/>
<circle cx="378" cy="407" r="0.55" fill="#4a4a4a"/>
<circle cx="343" cy="432.5" r="0.55" fill="#4a4a4a"/>
<circle cx="280" cy="435.75" r="0.55" fill="#4a4a4a"/>
<circle cx="238.25" cy="367" r="0.55" fill="#4a4a4a"/>
<circle cx="429.5" cy="249.25" r="0.55" fill="#4a4a4a"/>
<circle cx="480.5" cy="249.25" r="0.55" fill="#4a4a4a"/>
<circle cx="483.75" cy="251.25" r="0.55" fill="#4a4a4a"/>
<circle cx="518.75" cy="251.25" r="0.55" fill="#4a4a4a"/>
<circle cx="583.25" cy="250" r="0.55" fill="#4a4a4a"/>
<circle cx="470" cy="214.5" r="0.55" fill="#4a4a4a"/>
<circle cx="506.25" cy="214.5" r="0.55" fill="#4a4a4a"/>
<circle cx="551.25" cy="214.5" r="0.55" fill="#4a4a4a"/>
<circle cx="491.25" cy="264.25" r="0.55" fill="#4a4a4a"/>
<circle cx="506.25" cy="261.25" r="0.55" fill="#4a4a4a"/>
<circle cx="551.25" cy="288" r="0.55" fill="#4a4a4a"/>
<circle cx="560" cy="306.25" r="0.55" fill="#4a4a4a"/>
<circle cx="516.75" cy="299.25" r="0.55" fill="#4a4a4a"/>
<circle cx="492.5" cy="318" r="0.55" fill="#4a4a4a"/>
<circle cx="476.25" cy="320.5" r="0.55" fill="#4a4a4a"/>
<circle cx="457.5" cy="283.25" r="0.55" fill="#4a4a4a"/>
<circle cx="429.5" cy="361.25" r="0.55" fill="#4a4a4a"/>
<circle cx="500.75" cy="361.25" r="0.55" fill="#4a4a4a"/>
<circle cx="503.75" cy="348" r="0.55" fill="#4a4a4a"/>
<circle cx="583.25" cy="348" r="0.55" fill="#4a4a4a"/>
<circle cx="476.25" cy="378" r="0.55" fill="#4a4a4a"/>
<circle cx="560" cy="378" r="0.55" fill="#4a4a4a"/>
<circle cx="620" cy="276.75" r="0.55" fill="#4a4a4a"/>
<circle cx="773.75" cy="276.75" r="0.55" fill="#4a4a4a"/>
<circle cx="709.25" cy="214.5" r="0.55" fill="#4a4a4a"/>
<circle cx="709.25" cy="378" r="0.55" fill="#4a4a4a"/>
<text x="414.2" y="516.3" font-size="15" font-weight="bold" fill="#000" stroke="#000" stroke-width="0.25" text-anchor="middle" textLength="58" lengthAdjust="spacingAndGlyphs">All Levels</text>
<text x="414" y="551" font-size="15" font-weight="bold" fill="#000" stroke="#000" stroke-width="0.25" text-anchor="middle" textLength="119" lengthAdjust="spacingAndGlyphs">222 Mechanic Street</text>
<text x="414.4" y="568.3" font-size="15" font-weight="bold" fill="#000" stroke="#000" stroke-width="0.25" text-anchor="middle" textLength="111" lengthAdjust="spacingAndGlyphs">Boonton, NJ 07005</text>
<text x="462.8" y="582.3" font-size="6.7" fill="#adadad" text-anchor="middle" textLength="205.6" lengthAdjust="spacingAndGlyphs">MEASUREMENTS DEEMED HIGHLY RELIABLE BUT NOT GUARANTEED.</text>
<text x="4" y="595.6" font-size="16.1" fill="#000" stroke="#000" stroke-width="0.15">5406302</text>
</svg>
</body></html>
